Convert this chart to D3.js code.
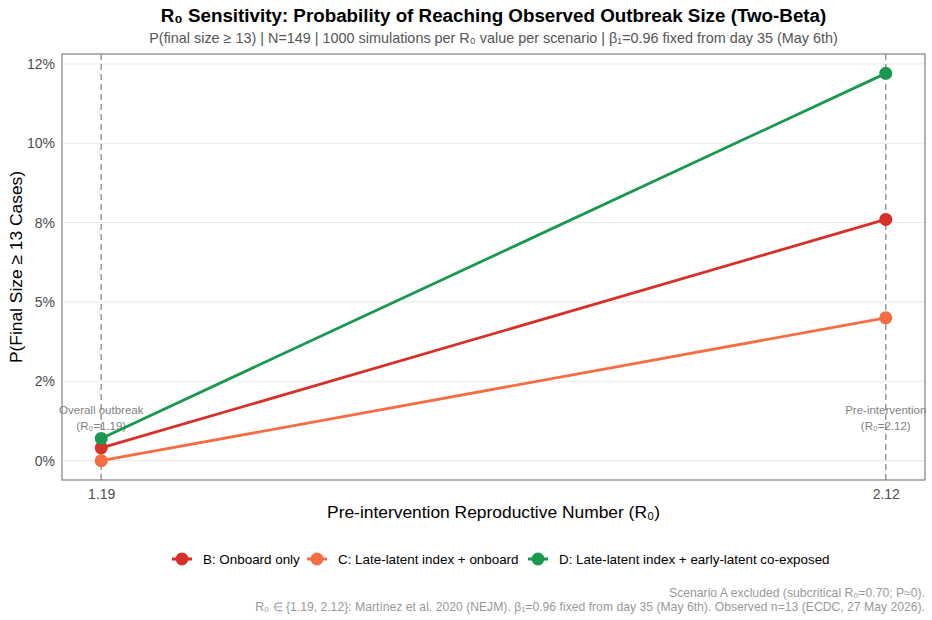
<!DOCTYPE html>
<html>
<head>
<meta charset="utf-8">
<script src="https://cdn.jsdelivr.net/npm/d3@7"></script>
<style>
body { margin: 0; background: #fff; }
text { font-family: "Liberation Sans", Arial, sans-serif; }
</style>
</head>
<body>
<div id="chart"></div>
<script>
(function() {
	var W = 932, H = 620;
	var margin = { top: 54, left: 62, right: 7, bottom: 140 },
	height = H - margin.top - margin.bottom,
	width = W - margin.left - margin.right;

	// data
	var r0Values = [1.19, 2.12];
	var seriesNames = ["B: Onboard only", "C: Late-latent index + onboard", "D: Late-latent index + early-latent co-exposed"];
	var seriesColors = ["#d73027", "#f46d43", "#1a9850"];
	var probB = [0.004, 0.076];
	var probC = [0.000, 0.045];
	var probD = [0.007, 0.122];
	var yTicks = [0, 0.025, 0.05, 0.075, 0.10, 0.125];
	var yTickLabels = ["0%", "2%", "5%", "8%", "10%", "12%"];
	var annotations = [["Overall outbreak", "(R\u2080=1.19)"], ["Pre-intervention", "(R\u2080=2.12)"]];

	var series = seriesNames.map(function(name, i) {
		var vals = [probB, probC, probD][i];
		return { name: name, color: seriesColors[i], points: r0Values.map(function(r, j) { return { r: r, p: vals[j] }; }) };
	});

	var svg = d3.select("#chart").append("svg")
		.attr("width", W).attr("height", H);

	var g = svg.append("g")
		.attr("transform", "translate(" + margin.left + "," + margin.top + ")");

	var xSpan = r0Values[1] - r0Values[0];
	var xPositionScale = d3.scaleLinear()
		.domain([r0Values[0] - xSpan * 0.05, r0Values[1] + xSpan * 0.05])
		.range([0, width]);
	var yMax = d3.max([probB, probC, probD], function(a) { return d3.max(a); });
	var yPositionScale = d3.scaleLinear()
		.domain([-yMax * 0.05, yMax * 1.05])
		.range([height, 0]);

	// grid
	g.selectAll(".grid").data(yTicks).enter().append("line")
		.attr("x1", 0).attr("x2", width)
		.attr("y1", function(d) { return yPositionScale(d); })
		.attr("y2", function(d) { return yPositionScale(d); })
		.attr("stroke", "#ebebeb").attr("stroke-width", 1.1);

	// dashed reference lines
	g.selectAll(".vref").data(r0Values).enter().append("line")
		.attr("x1", function(d) { return xPositionScale(d); })
		.attr("x2", function(d) { return xPositionScale(d); })
		.attr("y1", 0).attr("y2", height)
		.attr("stroke", "#999").attr("stroke-width", 1.5)
		.attr("stroke-dasharray", "6,4");

	// annotations
	annotations.forEach(function(a, i) {
		var t = g.append("text")
			.attr("x", xPositionScale(r0Values[i]))
			.attr("y", yPositionScale(0.0148))
			.attr("text-anchor", "middle")
			.attr("font-size", "11.5px")
			.attr("fill", "#7f7f7f");
		t.append("tspan").attr("x", xPositionScale(r0Values[i])).text(a[0]);
		t.append("tspan").attr("x", xPositionScale(r0Values[i])).attr("dy", 16).text(a[1]);
	});

	var line = d3.line()
		.x(function(d) { return xPositionScale(d.r); })
		.y(function(d) { return yPositionScale(d.p); });

	series.forEach(function(s) {
		g.append("path")
			.datum(s.points)
			.attr("d", line)
			.attr("fill", "none")
			.attr("stroke", s.color)
			.attr("stroke-width", 2.8);
	});
	series.forEach(function(s) {
		g.selectAll(".pt").data(s.points).enter().append("circle")
			.attr("cx", function(d) { return xPositionScale(d.r); })
			.attr("cy", function(d) { return yPositionScale(d.p); })
			.attr("r", 6.5)
			.attr("fill", s.color);
	});

	// panel border
	g.append("rect")
		.attr("width", width).attr("height", height)
		.attr("fill", "none").attr("stroke", "#808080").attr("stroke-width", 1.2);

	// axes
	var xAxis = d3.axisBottom(xPositionScale).tickValues(r0Values).tickFormat(d3.format(".2f")).tickSize(0).tickPadding(9);
	g.append("g")
		.attr("class", "axis x-axis")
		.attr("transform", "translate(0," + height + ")")
		.call(xAxis)
		.call(function(a) { a.select(".domain").remove(); })
		.selectAll("text").attr("font-size", "14px").attr("fill", "#4d4d4d")
		.style("font-family", "Liberation Sans, Arial, sans-serif");

	var yAxis = d3.axisLeft(yPositionScale).tickValues(yTicks)
		.tickFormat(function(d, i) { return yTickLabels[i]; }).tickSize(0).tickPadding(7);
	g.append("g")
		.attr("class", "axis y-axis")
		.call(yAxis)
		.call(function(a) { a.select(".domain").remove(); })
		.selectAll("text").attr("font-size", "14px").attr("fill", "#4d4d4d")
		.style("font-family", "Liberation Sans, Arial, sans-serif");

	var cx = margin.left + width / 2;

	// titles
	svg.append("text").attr("x", cx).attr("y", 22).attr("text-anchor", "middle")
		.attr("font-size", "18.8px").attr("font-weight", "bold").attr("fill", "#000")
		.text("R\u2080 Sensitivity: Probability of Reaching Observed Outbreak Size (Two-Beta)");
	svg.append("text").attr("x", cx).attr("y", 43).attr("text-anchor", "middle")
		.attr("font-size", "14.4px").attr("fill", "#555")
		.text("P(final size \u2265 13) | N=149 | 1000 simulations per R\u2080 value per scenario | \u03b2\u2081=0.96 fixed from day 35 (May 6th)");

	svg.append("text").attr("x", cx).attr("y", 518).attr("text-anchor", "middle")
		.attr("font-size", "17.4px").attr("fill", "#000")
		.text("Pre-intervention Reproductive Number (R\u2080)");
	svg.append("text")
		.attr("transform", "translate(22," + (margin.top + height / 2) + ") rotate(-90)")
		.attr("text-anchor", "middle")
		.attr("font-size", "17.4px").attr("fill", "#000")
		.text("P(Final Size \u2265 13 Cases)");

	// legend
	var legend = svg.append("g").attr("transform", "translate(0,559)");
	var lx = [172, 307, 528];
	series.forEach(function(s, i) {
		var item = legend.append("g").attr("transform", "translate(" + lx[i] + ",0)");
		item.append("line").attr("x1", 0).attr("x2", 20).attr("stroke", s.color).attr("stroke-width", 3);
		item.append("circle").attr("cx", 10).attr("r", 6.5).attr("fill", s.color);
		item.append("text").attr("x", 31).attr("dy", "0.35em")
			.attr("font-size", "13.4px").attr("fill", "#000").text(s.name);
	});

	// caption
	var cap = svg.append("text").attr("text-anchor", "end").attr("font-size", "12.2px").attr("fill", "#999");
	cap.append("tspan").attr("x", margin.left + width).attr("y", 597)
		.text("Scenario A excluded (subcritical R\u2080=0.70; P\u22480).");
	cap.append("tspan").attr("x", margin.left + width).attr("y", 611)
		.text("R\u2080 \u2208 {1.19, 2.12}: Mart\u00ednez et al. 2020 (NEJM). \u03b2\u2081=0.96 fixed from day 35 (May 6th). Observed n=13 (ECDC, 27 May 2026).");
})();
</script>
</body>
</html>
